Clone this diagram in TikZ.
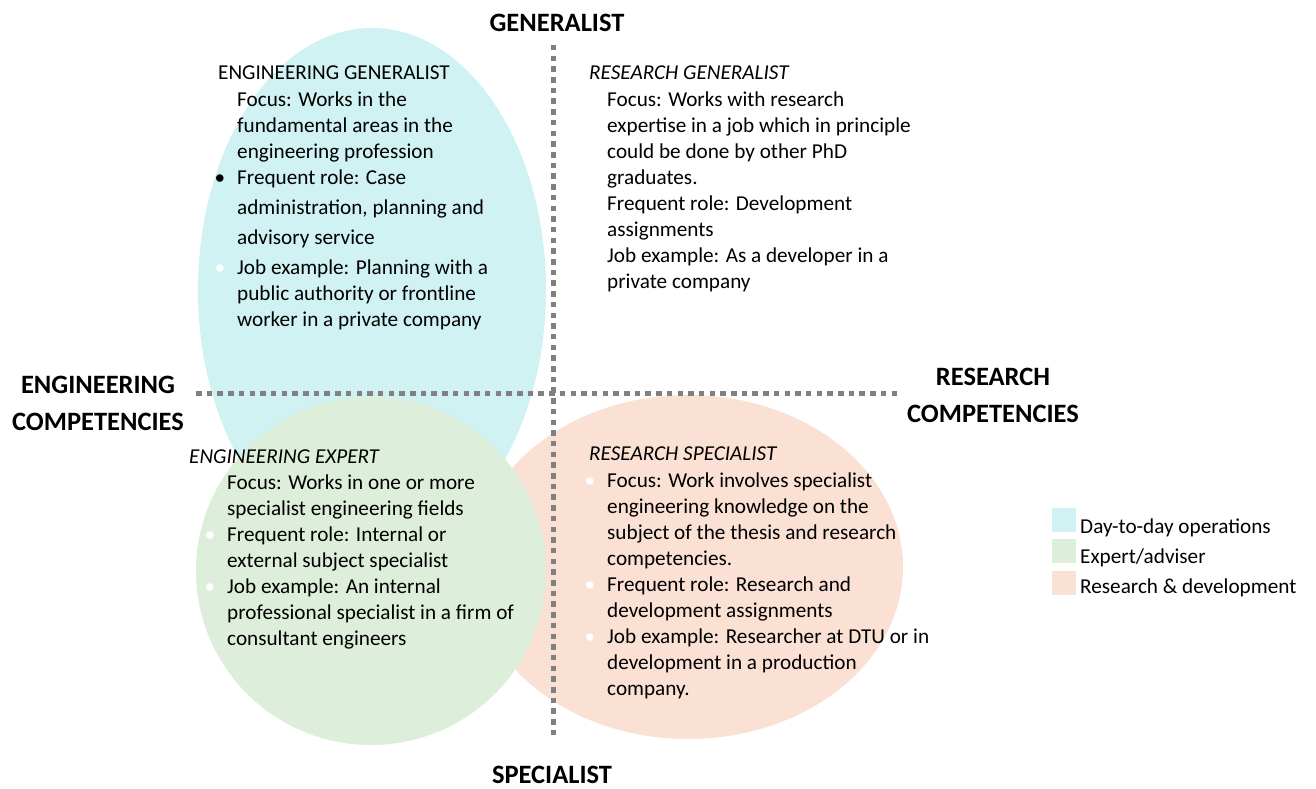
\documentclass[tikz,border=0pt]{standalone}
\usepackage{fontspec}
\setmainfont{Carlito}

\definecolor{dayop}{RGB}{208,242,242}
\definecolor{expert}{RGB}{221,238,218}
\definecolor{resdev}{RGB}{251,224,212}
\definecolor{axisgray}{RGB}{128,128,128}

\newcommand{\bodyfont}{\fontsize{21.2}{26}\selectfont}
\newcommand{\headfont}{\fontsize{26.5}{37}\selectfont\bfseries}
\newcommand{\blackbul}{\llap{\textbullet\hspace{12pt}}}
\newcommand{\whitebul}{\llap{\textcolor{white}{\textbullet}\hspace{12pt}}}

\tikzset{
  axis/.style = {draw = axisgray, line width = 5pt, dash pattern = on 5.5pt off 5.2pt},
  axislab/.style = {inner sep = 0pt, align = center, font = \headfont},
  title/.style = {anchor = base west, inner sep = 0pt, font = \bodyfont},
  body/.style = {anchor = north west, inner sep = 0pt, align = left, font = \bodyfont, yshift = 18.2pt},
  legbox/.style = {minimum size = 24pt, inner sep = 0pt},
}

\begin{document}
\begin{tikzpicture}[x = 1pt, y = -1pt]
			\useasboundingbox (0, 0) rectangle (1316, 789);
			% the three areas
			\fill[dayop] (372, 290) ellipse [x radius = 174, y radius = 262];
			\fill[resdev] (688, 567) ellipse [x radius = 215, y radius = 172];
			\fill[expert] (371, 571) ellipse [x radius = 175, y radius = 174];
			% axes
			\coordinate (top) at (553, 45);
			\coordinate (bottom) at (553, 738);
			\coordinate (left) at (196, 393);
			\coordinate (right) at (898, 393);
			\draw[axis] (top) -- (bottom);
			\draw[axis] (left) -- (right);
			\node[axislab, anchor = base] (generalist) at (557, 32) {GENERALIST};
			\node[axislab, anchor = base] (specialist) at (552, 783) {SPECIALIST};
			\node[axislab, anchor = north] (engcomp) at (98, 367.1) {\strut ENGINEERING\\COMPETENCIES};
			\node[axislab, anchor = north] (rescomp) at (993, 359.1) {\strut RESEARCH\\COMPETENCIES};
			% engineering generalist
			\node[title] (enggenT) at (218, 80) {ENGINEERING GENERALIST};
			\node[body] (enggen) at (237, 106) {\strut Focus: Works in the\\
				fundamental areas in the\\
				engineering profession\\
				\blackbul Frequent role: Case\\[4pt]
				administration, planning and\\[4pt]
				advisory service\\[4pt]
				\whitebul Job example: Planning with a\\
				public authority or frontline\\
				worker in a private company};
			% research generalist
			\node[title, font = \bodyfont\itshape] (resgenT) at (589, 80) {RESEARCH GENERALIST};
			\node[body] (resgen) at (607, 106) {\strut Focus: Works with research\\
				expertise in a job which in principle\\
				could be done by other PhD\\
				graduates.\\
				Frequent role: Development\\
				assignments\\
				Job example: As a developer in a\\
				private company};
			% engineering expert
			\node[title, font = \bodyfont\itshape] (engexpT) at (189, 463) {ENGINEERING EXPERT};
			\node[body] (engexp) at (227, 489) {\strut Focus: Works in one or more\\
				specialist engineering fields\\
				\whitebul Frequent role: Internal or\\
				external subject specialist\\
				\whitebul Job example: An internal\\
				professional specialist in a firm of\\
				consultant engineers};
			% research specialist
			\node[title, font = \bodyfont\itshape] (resspecT) at (589, 460) {RESEARCH SPECIALIST};
			\node[body] (resspec) at (607, 487) {\strut\whitebul Focus: Work involves specialist\\
				engineering knowledge on the\\
				subject of the thesis and research\\
				competencies.\\
				\whitebul Frequent role: Research and\\
				development assignments\\
				\whitebul Job example: Researcher at DTU or in\\
				development in a production\\
				company.};
			% legend
			\node[legbox, fill = dayop] (kday) at (1064, 520) {};
			\node[legbox, fill = expert] (kexp) at (1064, 551) {};
			\node[legbox, fill = resdev] (kres) at (1064, 583) {};
			\node[title] (lday) at (1080, 533) {Day-to-day operations};
			\node[title] (lexp) at (1080, 563) {Expert/adviser};
			\node[title] (lres) at (1080, 593) {Research \& development};
		\end{tikzpicture}
\end{document}
